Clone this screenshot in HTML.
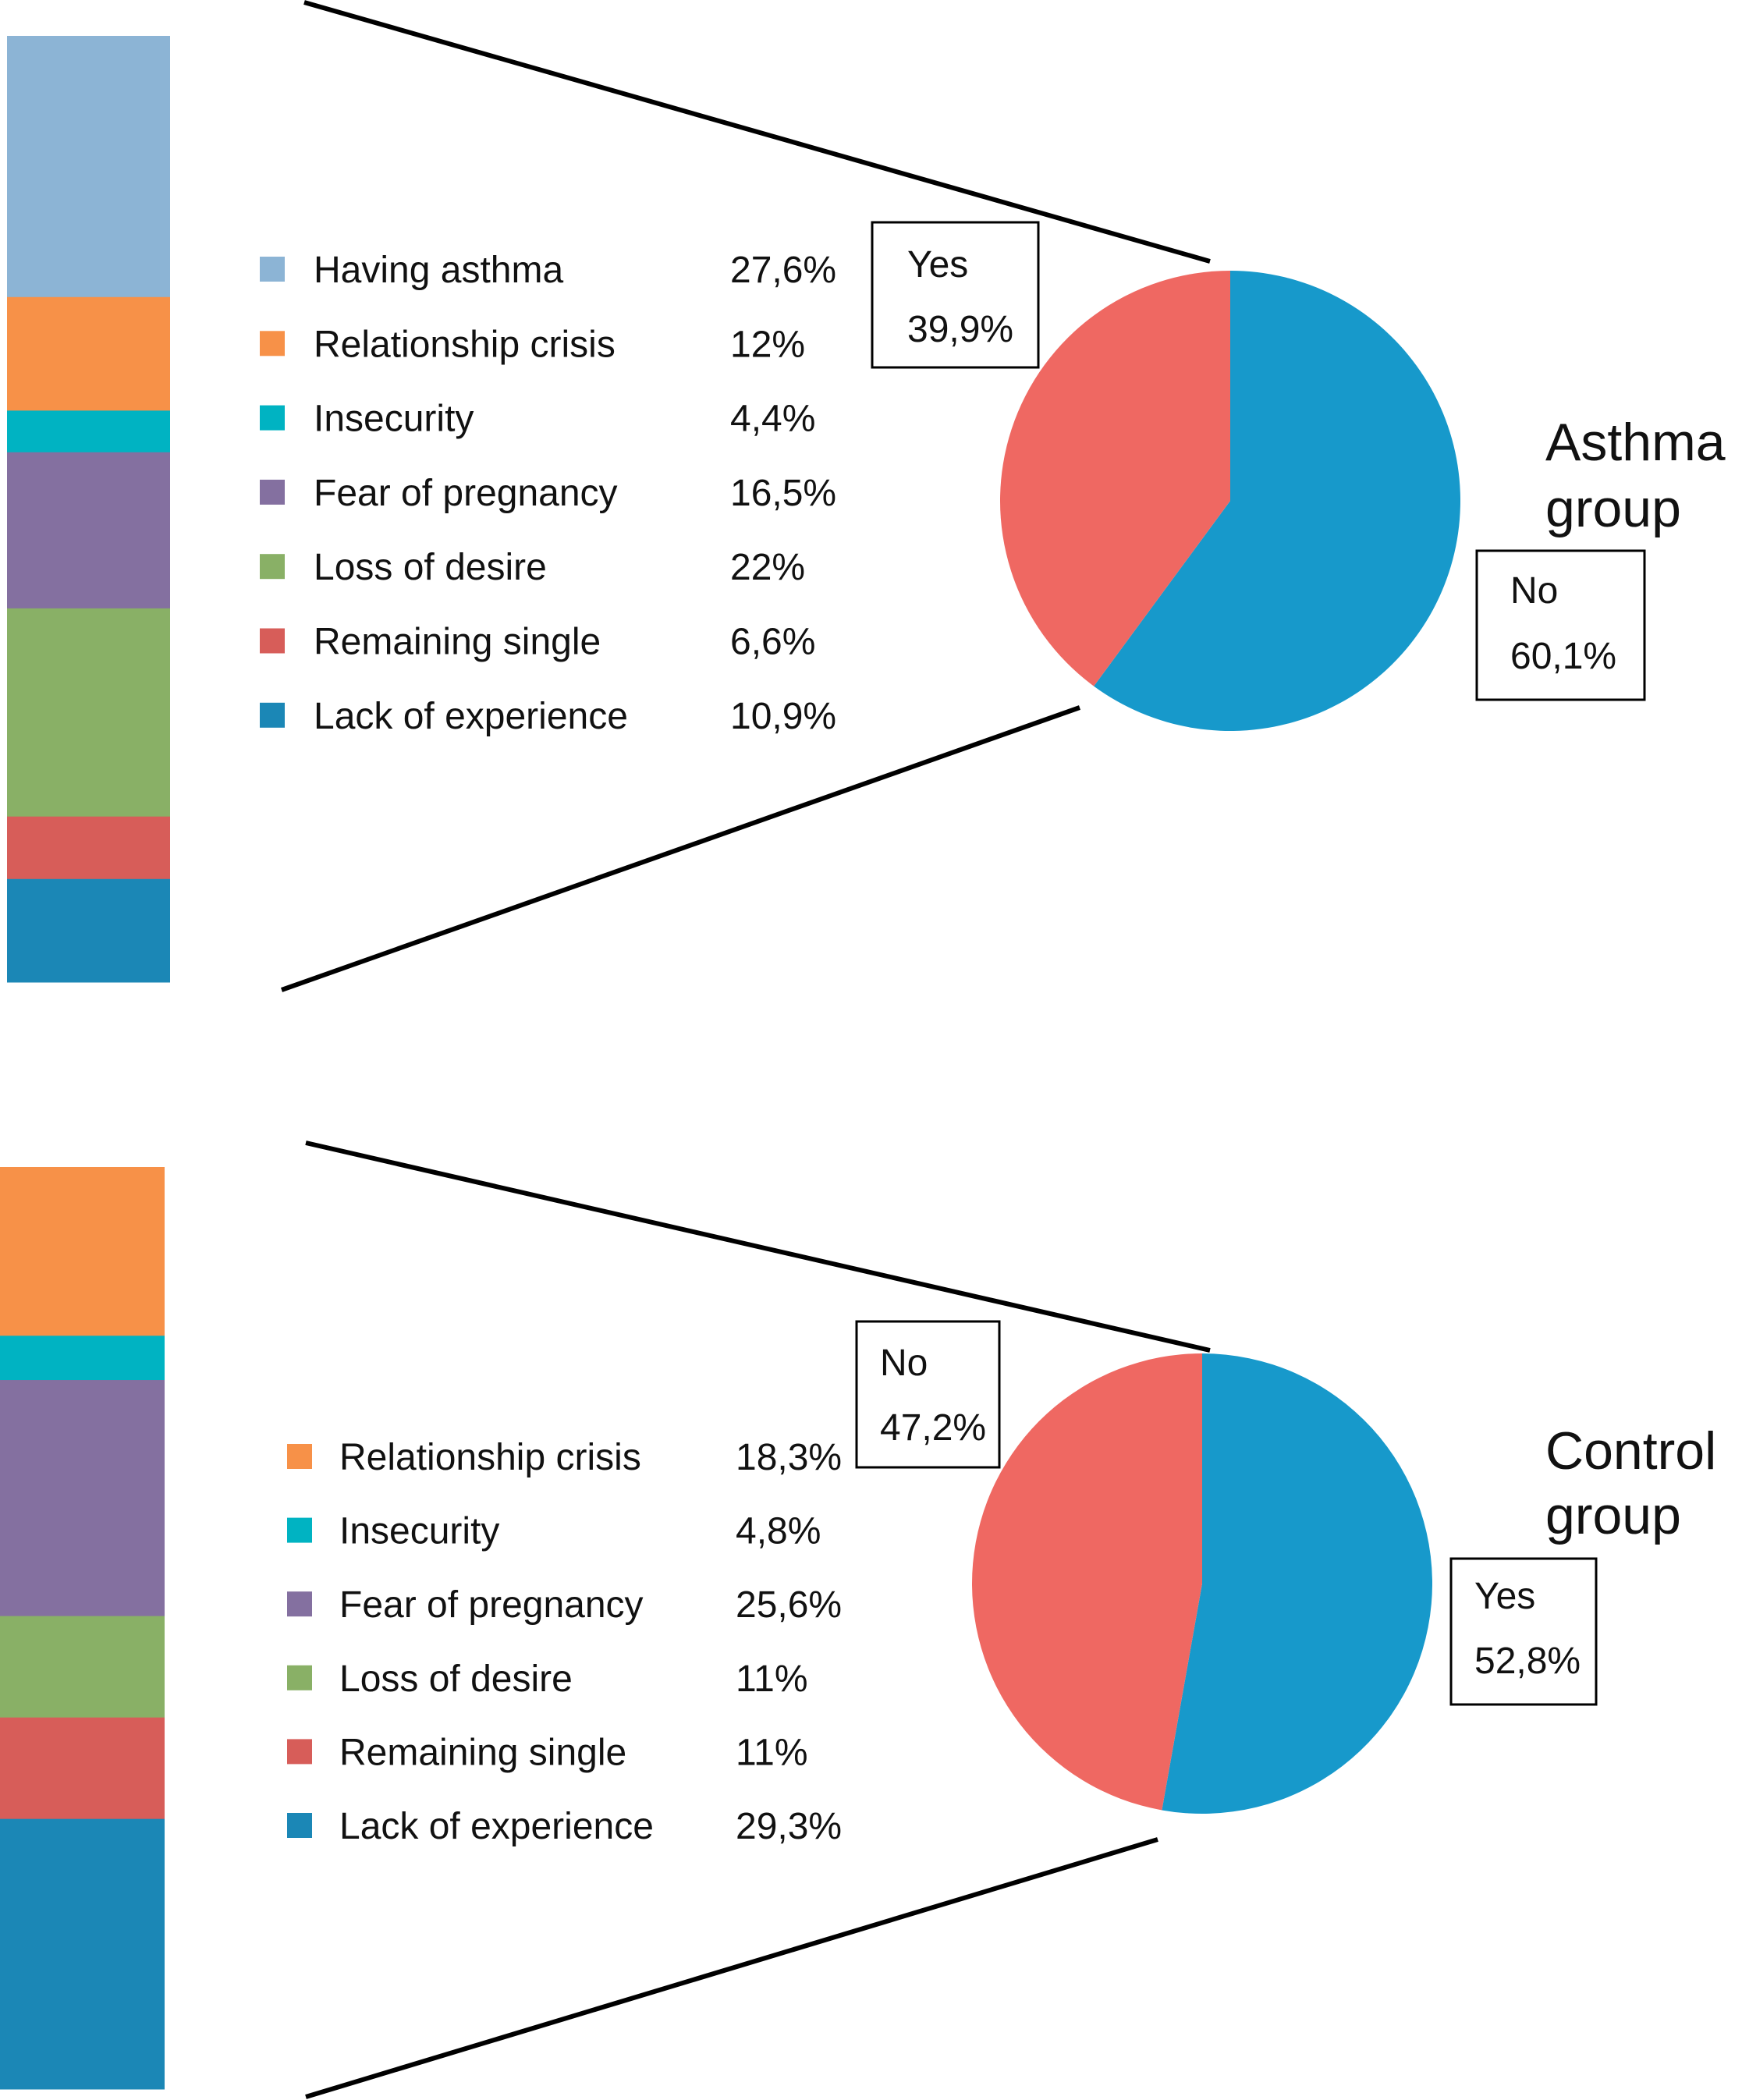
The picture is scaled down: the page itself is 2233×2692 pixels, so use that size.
<!DOCTYPE html>
<html><head><meta charset="utf-8">
<style>
html,body{margin:0;padding:0;background:#fff;}
svg{display:block;font-family:"Liberation Sans",Arial,sans-serif;}
</style></head>
<body>
<svg id="chart" width="2233" height="2692" viewBox="0 0 2233 2692" xmlns="http://www.w3.org/2000/svg">
<rect width="2233" height="2692" fill="#fff"/>
<line x1="390" y1="3" x2="1551" y2="335" stroke="#000" stroke-width="6"/>
<line x1="1384" y1="907" x2="361" y2="1269" stroke="#000" stroke-width="6"/>
<line x1="392" y1="1465" x2="1551" y2="1731" stroke="#000" stroke-width="6"/>
<line x1="1484" y1="2358" x2="392" y2="2688" stroke="#000" stroke-width="6"/>
<g id="g1"></g>
<g id="g2"></g>
<rect x="1118" y="285" width="213" height="186" fill="none" stroke="#000" stroke-width="3"/>
<text x="1163" y="355" font-size="48" fill="#111">Yes</text>
<text x="1163" y="438" font-size="48" fill="#111">39,9%</text>
<rect x="1893" y="706" width="215" height="191" fill="none" stroke="#000" stroke-width="3"/>
<text x="1936" y="773" font-size="48" fill="#111">No</text>
<text x="1936" y="857" font-size="48" fill="#111">60,1%</text>
<text x="1981" y="590" font-size="68" fill="#111">Asthma</text>
<text x="1981" y="675" font-size="68" fill="#111">group</text>
<rect x="1098" y="1694" width="183" height="187" fill="none" stroke="#000" stroke-width="3"/>
<text x="1128" y="1763" font-size="48" fill="#111">No</text>
<text x="1128" y="1846" font-size="48" fill="#111">47,2%</text>
<rect x="1860" y="1998" width="186" height="187" fill="none" stroke="#000" stroke-width="3"/>
<text x="1890" y="2062" font-size="48" fill="#111">Yes</text>
<text x="1890" y="2145" font-size="48" fill="#111">52,8%</text>
<text x="1981" y="1883" font-size="68" fill="#111">Control</text>
<text x="1981" y="1966" font-size="68" fill="#111">group</text>
</svg>
<script>
const asthmaCategories = ["Having asthma","Relationship crisis","Insecurity","Fear of pregnancy","Loss of desire","Remaining single","Lack of experience"];
const asthmaValues = [27.6,12,4.4,16.5,22,6.6,10.9];
const asthmaLabels = ["27,6%","12%","4,4%","16,5%","22%","6,6%","10,9%"];
const asthmaPie = [60.1,39.9];
const controlCategories = ["Relationship crisis","Insecurity","Fear of pregnancy","Loss of desire","Remaining single","Lack of experience"];
const controlValues = [18.3,4.8,25.6,11,11,29.3];
const controlLabels = ["18,3%","4,8%","25,6%","11%","11%","29,3%"];
const controlPie = [52.8,47.2];

const colorMap = {"Having asthma":"#8cb4d5","Relationship crisis":"#f79148","Insecurity":"#00b3c2","Fear of pregnancy":"#8470a0","Loss of desire":"#89b066","Remaining single":"#d75d59","Lack of experience":"#1b87b6"};
const NS="http://www.w3.org/2000/svg";
function mk(tag,attrs,parent){const e=document.createElementNS(NS,tag);for(const k in attrs)e.setAttribute(k,attrs[k]);parent.appendChild(e);return e;}

function draw(g,cats,vals,labels,pie,cfg){
  const total=vals.reduce((a,b)=>a+b,0);
  const yScale=v=>v/total*(cfg.barBottom-cfg.barTop);
  let y=cfg.barTop;
  cats.forEach((c,i)=>{
    const h=yScale(vals[i]);
    const r=mk('rect',{x:cfg.barX,y:y,width:cfg.barW,height:h+0.5,fill:colorMap[c]},g);
    
    
    y+=h;
    const ry=cfg.legTop+i*cfg.legStep;
    const sq=mk('rect',{x:cfg.sqX,y:ry-16,width:32,height:32,fill:colorMap[c]},g);
    
    
    const t=mk('text',{x:cfg.labX,y:ry+17,'font-size':48,fill:'#111'},g);
    t.textContent=c;
    
    
    const v=mk('text',{x:cfg.valX,y:ry+17,'font-size':48,fill:'#111'},g);
    v.textContent=labels[i];
    
    
  });
  const cx=cfg.cx,cy=cfg.cy,R=cfg.r;
  const ptot=pie[0]+pie[1];
  const ang=pie[0]/ptot*2*Math.PI;
  const ex=cx+R*Math.sin(ang), ey=cy-R*Math.cos(ang);
  const large0=ang>Math.PI?1:0;
  const b=mk('path',{d:`M${cx},${cy} L${cx},${cy-R} A${R},${R} 0 ${large0} 1 ${ex},${ey} Z`,fill:'#1799cb'},g);
  
  
  const rd=mk('path',{d:`M${cx},${cy} L${ex},${ey} A${R},${R} 0 ${1-large0} 1 ${cx},${cy-R} Z`,fill:'#ef6862'},g);
  
  
}
draw(document.getElementById('g1'),asthmaCategories,asthmaValues,asthmaLabels,asthmaPie,
 {barX:9,barW:209,barTop:46,barBottom:1259,sqX:333,legTop:345,legStep:95.3,labX:402,valX:936,cx:1577,cy:642,r:295});
draw(document.getElementById('g2'),controlCategories,controlValues,controlLabels,controlPie,
 {barX:0,barW:211,barTop:1496,barBottom:2678,sqX:368,legTop:1867,legStep:94.6,labX:435,valX:943,cx:1541,cy:2030,r:295});
</script>
</body></html>
